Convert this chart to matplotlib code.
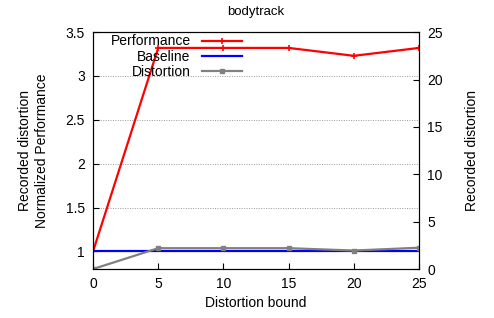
import matplotlib.pyplot as plt
import numpy as np

plt.rcParams['font.family'] = ['Liberation Sans', 'DejaVu Sans']
plt.rcParams['font.size'] = 10

bounds = [0, 5, 10, 15, 20, 25]
performance = [1.0, 3.32, 3.32, 3.32, 3.23, 3.32]
baseline = [1, 1, 1, 1, 1, 1]
distortion = [0.0, 2.2, 2.2, 2.2, 1.95, 2.25]

fig = plt.figure(figsize=(4.94, 3.18), dpi=100)
ax = fig.add_axes([0.1883, 0.154, 0.6600, 0.745])
ax2 = ax.twinx()

l1, = ax.plot(bounds, performance, color='red', lw=1.6, marker='+', ms=4, mew=1.2, label='Performance')
l2, = ax.plot(bounds, baseline, color='blue', lw=1.6, label='Baseline')
l3, = ax2.plot(bounds, distortion, color='#808080', lw=1.6, marker='s', ms=2.5, label='Distortion')

ax.set_xlim(0, 25)
ax.set_ylim(0.8, 3.5)
ax2.set_ylim(0, 25)
ax.set_xticks(bounds)
ax.set_yticks([1, 1.5, 2, 2.5, 3, 3.5])
ax.set_yticklabels(['1', '1.5', '2', '2.5', '3', '3.5'])
ax2.set_yticks([0, 5, 10, 15, 20, 25])

ax.yaxis.grid(True, linestyle=(0, (1, 1.5)), color='#999999', lw=0.7)
ax.tick_params(direction='in', length=4, width=0.8, pad=6)
ax2.tick_params(direction='in', length=4, width=0.8, pad=6)
ax.tick_params(axis='x', pad=6)
ax.set_axisbelow(True)

ax.set_xlabel('Distortion bound', labelpad=3)
ax.set_ylabel('Recorded distortion\nNormalized Performance', labelpad=12)
ax2.set_ylabel('Recorded distortion', labelpad=16)
ax.set_title('bodytrack', fontsize=9.5, pad=12)

ax.legend(handles=[l1, l2, l3], loc='upper right', bbox_to_anchor=(0.457, 0.99),
          frameon=False, markerfirst=False, handlelength=2.9, labelspacing=0.1,
          borderaxespad=0, borderpad=0, handletextpad=0.8, alignment='right')

fig.savefig('out.png', dpi=100)
